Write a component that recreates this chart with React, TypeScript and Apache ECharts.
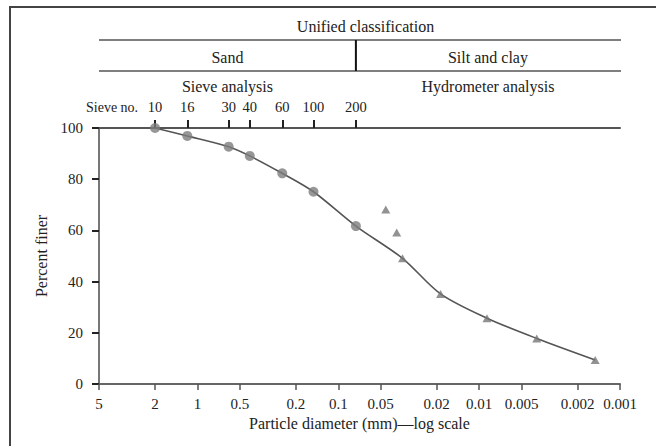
import React, { useEffect, useRef } from "react";
import * as echarts from "echarts";

// Particle-diameter tick labels (mm), bottom axis
const diameterTicks = [5, 2, 1, 0.5, 0.2, 0.1, 0.05, 0.02, 0.01, 0.005, 0.002, 0.001];
// Percent-finer ticks
const percentTicks = [0, 20, 40, 60, 80, 100];
// Sieve numbers and their openings (mm)
const sieveNumbers = ["10", "16", "30", "40", "60", "100", "200"];
const sieveOpenings = [2.0, 1.18, 0.6, 0.425, 0.25, 0.15, 0.075];
// Sieve analysis results (percent finer)
const sievePercentFiner = [100, 96.9, 92.7, 89.1, 82.3, 75.1, 61.7];
// Hydrometer analysis results
const hydroDiameters = [0.046, 0.0385, 0.035, 0.0188, 0.0088, 0.0039, 0.0015];
const hydroPercentFiner = [68.2, 59.2, 49.1, 35.2, 25.7, 17.8, 9.4];
// Index of the first hydrometer reading the grading curve passes through
const curveHydroStart = 2;

const FONT = '"Liberation Serif", "Times New Roman", serif';
const TEXT = "#222";

const toX = (d: number) => -Math.log10(d);
const fmtDiameter = (v: number) => String(Number(Math.pow(10, -v).toPrecision(4)));

export default function App() {
  const ref = useRef<HTMLDivElement>(null);

  useEffect(() => {
    if (!ref.current) return;
    const chart = echarts.init(ref.current, undefined, { renderer: "svg" });

    const sievePts = sieveOpenings.map((d, i) => [toX(d), sievePercentFiner[i]]);
    const hydroPts = hydroDiameters.map((d, i) => [toX(d), hydroPercentFiner[i]]);
    const curvePts = [...sievePts, ...hydroPts.slice(curveHydroStart)];
    const sieveXs = sieveOpenings.map(toX);

    const xMin = toX(diameterTicks[0]);
    const xMax = toX(diameterTicks[diameterTicks.length - 1]);

    chart.setOption({
      animation: false,
      backgroundColor: "#fff",
      textStyle: { fontFamily: FONT },
      grid: { left: 99, right: 36, top: 128, bottom: 62 },
      xAxis: [
        {
          type: "value",
          position: "bottom",
          min: xMin,
          max: xMax,
          name: "Particle diameter (mm)\u2014log scale",
          nameLocation: "middle",
          nameGap: 31,
          nameTextStyle: { fontFamily: FONT, fontSize: 16, color: TEXT },
          axisLine: { show: true, onZero: false, lineStyle: { color: "#666", width: 2 } },
          axisTick: {
            show: true,
            customValues: diameterTicks.map(toX),
            length: 6,
            lineStyle: { color: "#555", width: 1.5 },
          },
          axisLabel: {
            customValues: diameterTicks.map(toX),
            formatter: (v: number) => fmtDiameter(v),
            margin: 12,
            fontFamily: FONT,
            fontSize: 15,
            color: TEXT,
          },
          splitLine: { show: false },
        },
        {
          type: "value",
          position: "top",
          min: xMin,
          max: xMax,
          axisLine: { show: true, onZero: false, lineStyle: { color: "#555", width: 2 } },
          axisTick: {
            show: true,
            customValues: sieveXs,
            length: 8,
            lineStyle: { color: "#222", width: 2 },
          },
          axisLabel: {
            customValues: sieveXs,
            formatter: (v: number) => {
              let best = 0;
              sieveXs.forEach((x, i) => {
                if (Math.abs(x - v) < Math.abs(sieveXs[best] - v)) best = i;
              });
              return sieveNumbers[best];
            },
            margin: 14,
            fontFamily: FONT,
            fontSize: 14.5,
            color: TEXT,
          },
          splitLine: { show: false },
        },
      ],
      yAxis: {
        type: "value",
        min: percentTicks[0],
        max: percentTicks[percentTicks.length - 1],
        interval: percentTicks[1] - percentTicks[0],
        name: "Percent finer",
        nameLocation: "middle",
        nameGap: 46,
        nameTextStyle: { fontFamily: FONT, fontSize: 16, color: TEXT },
        axisLine: { show: true, onZero: false, lineStyle: { color: "#777", width: 2 } },
        axisTick: { show: true, length: 7, lineStyle: { color: "#222", width: 2 } },
        axisLabel: { margin: 16, fontFamily: FONT, fontSize: 15, color: TEXT },
        splitLine: { show: false },
      },
      series: [
        {
          type: "line",
          xAxisIndex: 0,
          data: curvePts,
          smooth: 0.3,
          symbol: "none",
          lineStyle: { color: "#555", width: 1.6 },
          z: 2,
        },
        {
          type: "scatter",
          name: "Sieve analysis",
          xAxisIndex: 0,
          data: sievePts,
          symbol: "circle",
          symbolSize: 10,
          itemStyle: { color: "#7d7d7d" },
          z: 3,
        },
        {
          type: "scatter",
          name: "Hydrometer analysis",
          xAxisIndex: 0,
          data: hydroPts,
          symbol: "triangle",
          symbolSize: [9, 8],
          itemStyle: { color: "#777" },
          z: 3,
        },
      ],
    });

    // Header (classification bands) positioned from the axis scale
    const px = (d: number) => chart.convertToPixel({ xAxisIndex: 0 }, toX(d)) as number;
    const left = px(diameterTicks[0]);
    const right = px(diameterTicks[diameterTicks.length - 1]);
    const div = px(sieveOpenings[sieveOpenings.length - 1]);
    const txt = (text: string, x: number, y: number, size = 16, align = "center") => ({
      type: "text",
      style: { text, x, y, align, verticalAlign: "middle", fill: TEXT, font: `${size}px ${FONT}` },
    });
    const hline = (y: number) => ({
      type: "line",
      shape: { x1: left, y1: y, x2: right + 1, y2: y },
      style: { stroke: "#555", lineWidth: 1.5 },
    });

    chart.setOption({
      graphic: [
        { type: "line", shape: { x1: 9, y1: 7, x2: 656, y2: 7 }, style: { stroke: "#444", lineWidth: 2 } },
        { type: "line", shape: { x1: 10, y1: 7, x2: 10, y2: 446 }, style: { stroke: "#444", lineWidth: 2 } },
        txt("Unified classification", (left + right) / 2 + 6, 26),
        hline(40),
        hline(71),
        { type: "line", shape: { x1: div, y1: 40, x2: div, y2: 71 }, style: { stroke: "#111", lineWidth: 2 } },
        txt("Sand", (left + div) / 2, 57),
        txt("Silt and clay", (div + right) / 2, 57),
        txt("Sieve analysis", (left + div) / 2, 86),
        txt("Hydrometer analysis", (div + right) / 2, 86),
        txt("Sieve no.", 86, 107, 14, "left"),
      ],
    });

    return () => chart.dispose();
  }, []);

  return (
    <div
      ref={ref}
      style={{ position: "fixed", left: 0, top: 0, width: 656, height: 446, background: "#fff" }}
    />
  );
}
